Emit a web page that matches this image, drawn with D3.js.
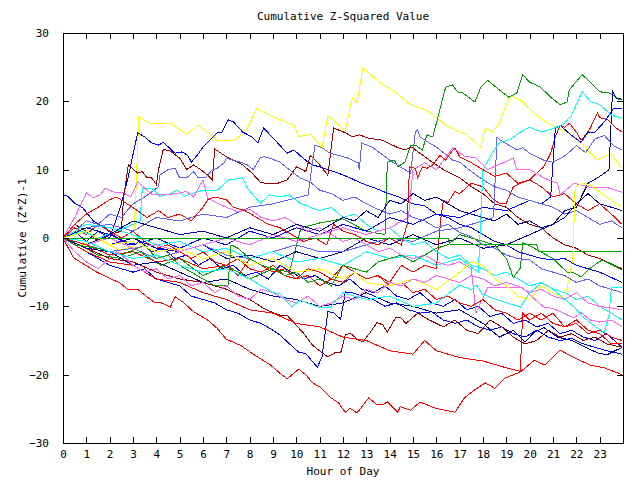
<!DOCTYPE html>
<html><head><meta charset="utf-8">
<script src="https://cdn.jsdelivr.net/npm/d3@7"></script>
<style>
html,body{margin:0;padding:0;background:#fff;}
text{font-family:"DejaVu Sans Mono","Liberation Mono",monospace;font-size:11px;fill:#000;}
</style></head>
<body><svg id="c" width="640" height="480"></svg>
<script>
// ---- data: [hour, cumulative (z*z)-1] ----
const title = "Cumulative Z-Squared Value";
const xTitle = "Hour of Day";
const yTitle = "Cumulative (Z*Z)-1";
const xTicks = d3.range(0, 24);
const yTicks = [-30, -20, -10, 0, 10, 20, 30];

const s01 = [[0,0],[0.7,-1],[1.6,-0.3],[2.4,-1.8],[3.0,-1.2],[3.1,4.5],[3.25,17.7],[3.7,16.8],[4.25,16.7],[4.6,16.8],[5.3,15.2],[5.8,16.5],[6.2,15.5],[6.6,14.3],[7.3,14.3],[7.8,15.4],[8.3,18.9],[9.0,17.7],[9.9,16.5],[10.1,14.8],[10.6,15.2],[11.1,13.2],[11.35,17.9],[12.1,15.7],[12.4,20.6],[12.6,19.8],[12.85,24.9],[13.6,22.7],[14.3,21.2],[14.9,19.5],[15.6,18.7],[16.45,16.4],[17.3,15.1],[17.9,13.3],[18.1,16.2],[18.4,15.5],[18.7,16.8],[19.15,20.8],[19.6,20.2],[20.15,18.4],[20.75,16.8],[21.6,15.5],[22.2,13.9],[22.9,11.4],[23.45,12.4],[23.96,10.2]];
const s02 = [[0,0],[0.7,-1],[1.5,-2.5],[2.5,-3],[3.3,-2],[4.2,-4],[5,-3],[6,-5.5],[7,-4],[8,-6],[9,-4.5],[9.7,-5],[10.2,1.5],[11,2.2],[12,2.8],[13,1],[13.8,0.5],[13.9,11.1],[14.2,11.4],[14.35,10.4],[14.65,11.1],[14.9,13.6],[15.1,13.6],[15.4,12.9],[15.6,15.1],[15.85,14.8],[16.4,22.1],[16.7,22.4],[16.9,21.4],[17.15,21.2],[17.65,19.9],[17.9,22],[18.2,23.1],[18.3,22.8],[18.8,21.4],[19.1,20.6],[19.45,21.2],[19.7,23.9],[20.0,22.8],[20.45,22.1],[20.9,20.6],[21.3,19.5],[21.6,19.9],[21.7,21.7],[22.25,23.9],[22.6,22.8],[23.0,21.4],[23.45,21.2],[23.8,20.3],[23.96,20.2]];
const s03 = [[0,0],[0.5,1],[1,-0.5],[1.5,1],[2,0],[2.45,4.4],[2.8,9],[3.2,15.4],[3.5,14.8],[3.8,13.9],[4.1,13.6],[4.3,14],[4.8,12.4],[5.1,12.6],[5.35,12.1],[5.5,11.1],[5.75,12.1],[6.0,13.3],[6.6,15.4],[6.8,15.4],[7.07,17.3],[7.3,17],[7.7,15.5],[8.1,14.8],[8.35,13.9],[8.6,16.1],[9.2,13.9],[9.6,12.4],[9.9,12.9],[10.15,12.1],[10.5,11.1],[10.7,10.7],[11.2,10.2],[11.8,9.5],[12.3,8.8],[12.8,8],[13.3,7.4],[13.8,6.7],[14.4,6],[15,5],[15.5,4.7],[16,3.5],[16.5,3],[17,2],[17.5,1.5],[18,0.5],[18.5,-0.5],[19,-1],[19.5,-2],[20,-2.5],[20.5,-3],[21,-3.2],[21.5,-3],[22,-4],[22.5,-4.5],[23,-5],[23.96,-6.5]];
const s04 = [[0,6.3],[0.2,6.1],[0.5,5.1],[0.85,4.4],[1.3,2.5],[1.8,1.5],[2.3,0],[2.8,-1],[3.3,-0.5],[3.8,-2],[4.3,-1.5],[4.8,-3],[5.3,-2.5],[5.8,-4],[6.3,-3],[6.8,-4.5],[7.3,-4],[7.8,-5.5],[8.3,-5],[8.8,-6],[9.3,-4],[9.8,-5],[10.3,-6],[10.8,-5.5],[11.3,-6.5],[11.8,-7],[12.3,-6],[12.8,-7.5],[13.3,-8],[13.8,-7],[14.3,-8.5],[14.8,-9],[15.3,-8],[15.8,-9.5],[16.3,-10],[16.8,-9],[17.3,-10.5],[17.8,-10],[18.3,-11.5],[18.8,-11],[19.3,-12.5],[19.8,-12],[20.3,-13],[20.8,-12.5],[21.3,-14],[21.8,-13.5],[22.3,-14.5],[22.8,-15],[23.3,-14],[23.96,-16]];
const s05 = [[0,0],[0.5,2],[1,1],[1.5,-0.5],[2,0.5],[2.5,1],[2.6,6],[2.8,10.7],[3.2,9.5],[3.4,9.7],[3.6,8.8],[3.8,8.8],[4.0,7.8],[4.1,10.1],[4.3,13],[4.6,12.7],[5.0,11.7],[5.3,10],[5.6,10.7],[5.9,10],[6.2,9.2],[6.4,8.5],[6.5,13],[6.65,12.7],[7.0,11.9],[7.3,11.4],[7.7,10.7],[8.1,9.5],[8.45,8.2],[8.75,7.9],[9.2,8],[9.6,8.5],[10.0,10.4],[10.15,10.2],[10.4,9.7],[10.6,12.1],[10.9,11.1],[11.35,9.2],[11.6,16.1],[12.1,15.4],[12.4,14.8],[12.7,15.1],[13.1,14.6],[13.7,14.3],[14.3,13.3],[14.65,12.9],[14.95,13.3],[15.3,12.4],[15.7,11.4],[16.3,10],[16.6,9.5],[17.0,8.8],[17.5,7.5],[18,6.5],[18.5,5],[19,4.5],[19.5,3],[20,2],[20.5,1.5],[21,0],[21.5,-1],[22,-1.5],[22.5,-2.5],[23,-3],[23.96,-4.5]];
const s06 = [[0,0],[0.5,1.5],[1,0.5],[1.5,2],[2,1],[2.5,0],[3,1],[3.5,-0.5],[4,-1.5],[4.5,-1],[5,-2],[5.5,-3],[6,-2],[6.5,-3.5],[7,-4],[7.5,-3],[8,-4.5],[8.5,-5],[9,-4],[9.5,-5.5],[10,-6],[10.5,-4.5],[11,-5],[11.5,-6],[12,-6.5],[12.5,-5],[13,-6],[13.5,-5.5],[14,-6.5],[14.5,-4],[15,-5],[15.5,-4],[16,-4.5],[16.2,3],[16.3,5.5],[16.5,5.2],[16.8,6.8],[17,6.5],[17.5,8],[18,7.5],[18.4,5.8],[18.7,5.1],[19.0,5.1],[19.3,7.5],[19.6,8],[20.0,8.5],[20.3,9.5],[20.6,10.4],[20.9,12.4],[21.1,14.8],[21.3,16.5],[21.5,16.2],[21.7,16.8],[22.0,15.5],[22.2,14.3],[22.4,15.1],[22.6,16.1],[22.9,18.3],[23.0,17.6],[23.35,17.3],[23.7,16.1],[23.96,15.5]];
const s07 = [[0,0],[0.45,-2.9],[1.45,-5],[2.0,-5.9],[2.45,-6.6],[2.8,-7.6],[3.2,-7.5],[3.6,-8.6],[3.95,-9.5],[4.15,-9.4],[4.6,-10.1],[4.8,-8.6],[5.15,-9.4],[5.6,-10.8],[6.2,-12],[6.6,-13.2],[7.0,-14.8],[7.6,-15.7],[8.2,-17.1],[8.9,-18.6],[9.3,-19.8],[9.6,-20.6],[10.1,-19.2],[10.4,-20],[10.7,-21.2],[11.0,-21.8],[11.45,-23.3],[11.8,-24.1],[12.1,-25.5],[12.3,-24.9],[12.6,-25.6],[13.1,-23.4],[13.45,-24.4],[13.7,-24.4],[13.9,-24],[14.35,-25.5],[14.45,-24.7],[14.9,-25.2],[15.3,-24],[15.95,-24.9],[16.8,-25.5],[17.2,-23.4],[17.65,-22.2],[18.1,-21.2],[18.5,-22],[18.95,-20.5],[19.6,-19.6],[20.2,-17.9],[20.65,-18.6],[21.3,-16.4],[21.95,-17.6],[22.6,-18.6],[23.2,-19],[23.96,-20]];
const s08 = [[0,0],[1,-2],[2,-4],[3,-5],[3.5,-4.5],[4,-6],[5,-7],[5.5,-8.5],[6,-9],[6.5,-9.5],[7,-10.5],[7.5,-11],[8,-12],[8.5,-12.5],[9,-13.5],[9.3,-14.2],[9.9,-16.1],[10.1,-16.7],[10.4,-16.9],[10.9,-18.9],[11.1,-17.4],[11.35,-10.8],[11.6,-10.9],[11.9,-11.9],[12.1,-7.9],[12.4,-8],[12.8,-8.5],[13.3,-9],[13.8,-10],[14.3,-9.5],[14.8,-10.5],[15.3,-11],[15.8,-10.8],[16.3,-12],[16.8,-12.5],[17.3,-12],[17.8,-13],[18.3,-13.5],[18.8,-13],[19.3,-14],[19.8,-14.5],[20.3,-13.5],[20.8,-14.5],[21.3,-15],[21.8,-14.7],[22.3,-15.5],[22.8,-16],[23.3,-16.5],[23.96,-17]];
const s09 = [[0,0],[1,-1.5],[2,-3],[3,-3.5],[4,-5],[5,-6],[6,-6.5],[7,-7.5],[8,-9],[8.7,-10.5],[9.3,-11.3],[9.6,-11.3],[9.9,-12.4],[10.3,-13.9],[10.7,-15.7],[11.1,-16.8],[11.35,-17.4],[11.65,-16.8],[11.9,-16.8],[12.1,-14.2],[12.3,-13.9],[12.65,-14.9],[12.85,-15.2],[13.15,-13.9],[13.45,-12.4],[13.7,-12.7],[13.9,-13.8],[14.25,-11.7],[14.45,-11.6],[14.7,-12.5],[15.2,-11],[15.7,-12],[16.3,-13],[16.8,-12],[17.3,-13.5],[17.8,-14],[18.3,-12],[18.8,-13],[19.3,-14.5],[19.8,-15.5],[20.3,-15],[20.8,-13.5],[21.3,-14.5],[21.8,-14],[22.3,-15],[22.8,-14.5],[23.3,-15.5],[23.96,-16]];
const s10 = [[0,0],[1,1],[2,-1],[3,0],[4,-1.5],[5,-2],[6,-1],[7,-3],[8,-2.5],[9,-3.5],[10,-2],[11,-3],[12,-2],[13,0],[14,-1],[15,0.5],[16,-1],[17,0],[18,-1.5],[19,-1],[20,0.5],[21,2],[21.5,4],[22,4.5],[22.5,8],[23,9],[23.4,10],[23.55,21.5],[23.7,20.5],[23.96,20.3]];
const s11 = [[0,0],[1,-1],[2,0.5],[3,-1],[4,0],[5,-1.5],[6,0],[7,-1],[8,1],[9,0],[10,1.5],[11,0.5],[12,2],[13,1],[14,3],[15,2],[16,3.5],[17,3],[18,4.5],[19,4],[20,5.5],[20.5,5],[20.9,6],[21.1,16],[21.3,16.5],[21.8,15],[22.2,14],[22.5,15.5],[22.8,15.5],[23.2,17],[23.6,19],[23.96,19]];
const s12 = [[0,0],[0.5,1],[1,2.5],[1.5,2],[2,3.5],[2.5,3],[3,5],[3.5,6],[4.1,7.5],[4.15,9.2],[4.5,10],[4.8,10.2],[5.0,8.8],[5.3,8.8],[5.6,9.7],[5.8,8.8],[6.1,8.8],[6.4,10],[6.6,10.2],[6.9,11],[7.0,11.7],[7.25,11.4],[7.7,11],[7.9,10.7],[8.15,10],[8.45,11.7],[8.6,11.9],[8.85,11.7],[9.3,11.1],[9.7,10],[10.0,9.2],[10.15,8.8],[10.6,8.2],[11,7],[11.5,6.5],[12,5.5],[12.5,6],[13,5],[13.5,4.2],[14,3.5],[14.5,4],[15,3],[15.5,2.5],[16,1.5],[16.5,2],[17,0.8],[17.5,0.2],[18,-1],[18.5,-1.5],[19,-2.5],[19.5,-3],[20,-3.2],[20.5,-4.5],[21,-5],[21.5,-5.5],[22,-6.5],[22.5,-6],[23,-7],[23.96,-8]];
const s13 = [[0,0],[1,1.5],[2,2],[3,1],[4,3],[5,2.5],[6,3.5],[7,3],[8,4.5],[9,5],[10.5,6.3],[10.8,13.6],[11.1,13.2],[11.45,12.4],[11.8,12.1],[12.2,11.7],[12.65,11],[12.7,10],[12.8,13.9],[13.25,13.3],[13.6,12.4],[14.0,11.4],[14.45,10.4],[14.9,9.5],[15.1,15.5],[15.2,15.8],[15.3,14.8],[15.7,13.9],[16.0,13.3],[16.45,12.1],[16.7,11.4],[17.0,11.1],[17.4,10],[18,8.5],[18.5,7.5],[19,7],[19.5,6],[20,5.5],[20.5,5],[21,4.5],[21.5,3.5],[22,4],[22.5,3],[23,2],[23.5,2.5],[23.96,1.5]];
const s14 = [[0,0],[1,-1],[2,-2],[3,-1.5],[4,-3],[5,-2],[6,-1],[7,-2.5],[8,-3],[9,-2],[10,-1],[11,-2],[12,-2],[13,-1],[14,0],[15,-0.5],[16,1],[17,1.5],[18,2.5],[18.45,3],[18.6,14.8],[18.7,14.4],[19.1,13.6],[19.45,12.9],[19.7,13.2],[20.0,12.4],[20.3,11.9],[20.6,11.4],[21.0,11.1],[21.5,12],[22,13.5],[22.4,12.5],[22.8,14.5],[23.2,15],[23.6,13.5],[23.96,12.9]];
const s15 = [[0,0],[1,2],[2,1.5],[3,0.5],[4,-1],[5,-0.5],[6,-2],[7,-1.5],[8,-3],[9,-2],[10,-3.5],[11,-3],[12,-4],[13,-2],[14,-3],[15,-2.5],[16,-4],[17,-3],[17.8,-5],[18,10],[18.4,12.5],[18.7,13.9],[19.2,14.5],[19.6,15.5],[20,16.2],[20.5,15.5],[21,16],[21.5,16.8],[21.8,18],[22.25,21.4],[22.6,20],[23,19.5],[23.5,18],[23.96,17.5]];
const s16 = [[0,0],[0.8,1],[1.5,0],[2.3,1],[3,2],[3.3,2.5],[3.4,7.3],[3.8,7.3],[4.15,6.1],[4.6,6.5],[4.9,7],[5.2,6.1],[6,7],[6.6,7],[7.1,8.5],[7.7,8.8],[7.9,7.3],[8.45,5.1],[8.85,6.3],[9.3,6],[9.7,6.3],[10.15,5.1],[10.6,4.5],[11,4],[11.5,4.5],[12,3],[12.5,3.5],[13,2],[13.5,1],[14,1.5],[14.5,0],[15,-1],[15.5,-0.5],[16,-2],[16.5,-3],[17,-2.5],[17.5,-4],[18,-4.5],[18.5,-5.5],[19,-5],[19.5,-6],[20,-7],[20.5,-6.5],[21,-7.5],[21.5,-8],[22,-9],[22.5,-8.5],[23,-10],[23.5,-11],[23.96,-12]];
const s17 = [[0,0],[0.5,3],[1.0,6.6],[1.3,5.9],[1.6,6.3],[1.8,7.3],[2.2,6.7],[2.6,6.6],[2.9,6],[3.2,8.2],[3.6,7],[3.85,6.3],[4.5,6.3],[5.0,6.6],[5.3,6.8],[5.6,6],[6.0,8.5],[6.2,5.8],[6.6,5.1],[7,4.5],[7.5,3.8],[8,4.2],[8.5,3],[9,2.5],[9.5,3],[10,2],[10.5,1],[11,1.5],[11.5,0.5],[12,-0.5],[12.5,0],[13,-1],[13.5,-2],[14,-1.5],[14.5,-2.5],[15,-3],[15.5,-2.5],[16,-3.5],[16.5,-4],[17,-3.5],[17.5,-4.5],[17.7,-11],[17.9,-9.5],[18.2,-7.3],[19.0,-7.3],[19.3,-7.2],[19.7,-7.3],[20.1,-8.6],[20.6,-10.1],[21.0,-10.3],[21.9,-11.7],[22.2,-10.9],[22.6,-12],[23.0,-12.3],[23.5,-12],[23.96,-13]];
const s18 = [[0,0],[1,-1],[2,0],[3,-1.5],[4,-1],[5,-2],[6,-1],[7,0],[8,-1],[9,0.5],[10,-0.5],[11,0.5],[12,1.5],[13,0.5],[14,1.5],[14.8,3],[15.0,10],[15.5,11],[16,10],[16.7,13.2],[17.2,12],[17.7,11.7],[18.2,10],[18.85,11],[19.3,11.7],[19.45,10],[20,10],[20.6,8.8],[21.2,8],[21.3,6.3],[21.9,8],[22.6,7.4],[23.3,7.4],[23.96,6.7]];
const s19 = [[0,0],[0.5,2],[1,3.5],[1.5,4.5],[2,5.6],[2.3,6],[2.7,5.1],[3.2,4],[3.6,3],[4.1,4],[4.5,3],[5,3.5],[5.5,2.5],[6,4.5],[6.2,5.6],[6.5,6],[7,5.6],[7.3,4.5],[7.8,4],[8.3,3],[8.8,2],[9.3,1.5],[9.8,0.5],[10.3,-0.5],[10.8,0],[11.3,-1],[11.6,2],[12,1],[12.5,0.5],[13,-0.5],[13.5,-1],[14,0],[14.5,-1],[14.75,2],[14.85,10.4],[15.1,10.2],[15.2,8.8],[15.4,10.4],[15.6,10.2],[15.85,10.7],[16.15,12.1],[16.4,11.4],[16.6,12.4],[16.8,13.2],[17,11.9],[17.5,11],[18,10],[18.5,9],[19,9.5],[19.5,8],[20,8.5],[20.5,7.5],[21,6],[21.5,6.5],[22,5],[22.5,4],[23,5],[23.5,3.5],[23.96,2]];
const s20 = [[0,0],[1,-1],[2,-2.5],[3,-2],[4,-3.5],[5,-3],[6,-4.5],[7,-4],[7.5,-5.5],[8,-3],[8.5,-4],[9,-5],[9.5,-4.5],[10,-6],[10.5,-5.5],[11,-7],[11.5,-6],[12,-4],[12.5,-5],[13,-6],[13.5,-5.5],[14,-7],[14.5,-6.5],[15,-8],[15.5,-7.5],[16,-9],[16.5,-8.5],[17,-9.5],[17.5,-10],[18,-9],[18.5,-10.5],[19,-11],[19.5,-12],[20,-11],[20.5,-12],[21,-11],[21.5,-13],[22,-12.5],[22.5,-14],[23,-13.5],[23.5,-14.5],[23.96,-15]];
const s21 = [[0,0],[1,-2],[2,-3.5],[3,-4],[4,-6],[5,-6.5],[6,-8],[7,-9],[8,-10.5],[9,-11],[10,-12.5],[11,-13],[12,-14.5],[13,-15],[14,-16.5],[15,-17],[15.5,-15],[16,-16.5],[17,-17.5],[18,-18],[19,-19],[19.6,-19.5],[19.7,-11],[20,-12],[20.5,-11],[21,-12.5],[21.5,-13],[22,-12],[22.5,-13.5],[23,-14],[23.5,-15.5],[23.96,-15.5]];
const s22 = [[0,0],[1,-1.5],[2,-2],[3,-4],[4,-3.5],[5,-5],[6,-6.5],[7,-6],[8,-7.5],[9,-8.5],[10,-9],[11,-10],[12,-9.5],[13,-8],[14,-9.5],[15,-10],[16,-11],[17,-10.5],[17.5,-11.5],[18,-12.5],[18.7,-14.5],[19.3,-13.5],[19.8,-15.2],[20.2,-13.8],[20.6,-13.1],[21.2,-14.5],[21.8,-15],[22.4,-16],[22.9,-16.8],[23.3,-17.1],[23.96,-16]];
const s23 = [[0,0],[0.5,-1],[1.5,-1.5],[2.5,-2.5],[3.5,-1],[4,-3],[4.5,-2.5],[5,-4],[5.5,-5],[6,-6],[6.5,-7],[7.07,-7],[7.2,-1],[7.5,-1.5],[8,-3],[8.5,-4],[9,-4.5],[9.5,-5.5],[10,-5],[10.5,-6.5],[11,-6],[11.5,-7],[12,-4],[12.5,-4.5],[13,-5],[13.5,-3.5],[14,-3],[14.5,-2.5],[15,-3.5],[15.5,-2.5],[16,-1.5],[16.5,-1],[17,0.5],[17.5,0],[18,-0.5],[18.5,-1],[19,-3],[19.3,-5.8],[19.6,-4.4],[19.7,-0.7],[20.1,-1.3],[20.45,-2],[21,-3],[21.6,-5],[21.9,-5.1],[22.2,-5.7],[22.6,-4.4],[23.1,-3.2],[23.7,-4.2],[23.96,-4.7]];
const s24 = [[0,0],[16.5,0],[16.6,-1],[20.3,-1],[20.4,-2],[23.96,-2]];
const s25 = [[0,0],[1,1.5],[2,0.5],[3,2.5],[4,1.5],[5,0.5],[6,1],[7,0],[8,1.5],[9,0.5],[10,2],[11,1],[12,3],[12.5,2.5],[13,4],[13.5,3],[14,5.5],[14.5,5],[15,6.5],[15.5,5.5],[16,6],[16.5,5],[17,4],[17.5,3.5],[18,3],[18.5,2.5],[19,3.5],[19.5,2],[20,2.5],[20.5,1.5],[21,2],[21.5,3],[22,5],[22.5,6.5],[23,5],[23.5,4.5],[23.96,4]];
const s26 = [[0,0],[1,1],[2,-1],[3,-0.5],[4,-2],[5,-1.5],[6,-3],[7,-2],[8,-4],[9,-3],[10,-5],[11,-4.5],[12,-6],[12.5,-5],[13,-6.5],[14,-7],[15,-6],[16,-7.5],[17,-5],[17.5,-3.5],[18,-4],[18.5,-6],[19,-7],[19.5,-8.5],[20,-9],[20.5,-7],[21,-8],[21.5,-9],[21.85,-3],[21.95,7.5],[22.3,8],[22.7,7.5],[23.1,6.5],[23.5,5.5],[23.96,4.5]];
const s27 = [[0,0],[0.5,-2],[1,-3.5],[1.5,-4.5],[2,-3],[2.3,-2],[2.7,-3],[3,-4],[3.5,-5],[4,-4.5],[4.5,-6],[5,-5.5],[5.5,-7],[6,-6.5],[6.5,-8],[7,-7],[7.5,-8.5],[8,-9],[8.5,-7.5],[9,-8],[9.5,-9],[10,-9.5],[10.5,-8.5],[11,-10],[11.5,-9.5],[12,-8.5],[12.5,-9],[13,-7.5],[13.5,-8],[14,-6.5],[14.5,-7],[15,-6],[15.5,-6.5],[16,-5.5],[16.5,-6],[17,-6.5],[17.5,-5.5],[18,-6],[18.5,-7],[19,-6.5],[19.5,-7],[20,-8],[20.5,-7.5],[21,-8.5],[21.5,-9],[22,-8],[22.5,-9.5],[23,-10],[23.96,-10.5]];
const s28 = [[0,0],[1,-0.5],[2,-2],[3,-3],[4,-2.5],[5,-4],[6,-5],[7,-4.5],[8,-6],[9,-8],[9.3,-8.2],[9.8,-10.1],[10.15,-9.1],[10.7,-9.8],[11,-10.2],[11.45,-10.2],[11.7,-9.1],[12,-8],[13,-9],[14,-8.5],[15,-10],[16,-9.5],[17,-6.9],[17.5,-7.6],[17.7,-6.9],[18,-8.3],[19,-9.5],[19.6,-10.1],[20,-8],[20.5,-6.6],[21,-7.5],[21.9,-10.1],[22.3,-11.6],[22.8,-12.9],[23.2,-13.8],[23.4,-11.3],[23.5,-7.3],[23.96,-7.2]];

const seriesList = [s01,s02,s03,s04,s05,s06,s07,s08,s09,s10,s11,s12,s13,s14,s15,s16,s17,s18,s19,s20,s21,s22,s23,s24,s25,s26,s27,s28];
const seriesColors = ["#ffff00","#00a000","#0000ff","#0000ff","#a00000","#ff0000","#ff0000","#0000ff","#a00000","#0000a0","#0000ff","#6060ff","#6060ff","#6060ff","#00ffff","#00ffff","#ff60ff","#ff60ff","#ff0000","#ff0000","#ff0000","#0000a0","#00a000","#00a000","#0000a0","#ffff00","#ff60ff","#00ffff"];

// ---- drawing ----
const svg = d3.select("#c");
const L = 63, R = 623, T = 33, B = 443;
const x = d3.scaleLinear().domain([0, 24]).range([L, R]);
const y = d3.scaleLinear().domain([-30, 30]).range([B, T]);

const line = d3.line().x(d => x(d[0])).y(d => y(d[1]));
const g = svg.append("g");
seriesList.forEach((s, i) => {
  g.append("path").attr("d", line(s)).attr("fill", "none")
   .attr("stroke", seriesColors[i]).attr("stroke-width", 1)
   .attr("shape-rendering", "crispEdges");
});

// axes (ticks inward on all four sides)
svg.append("g").attr("transform", `translate(0,${B})`)
  .call(d3.axisBottom(x).tickValues(xTicks).tickSize(-6).tickPadding(7).tickFormat(d3.format("d")))
  .call(a => a.select(".domain").remove());
svg.append("g").attr("transform", `translate(0,${T})`)
  .call(d3.axisTop(x).tickValues(xTicks).tickSize(-6).tickFormat(""))
  .call(a => a.select(".domain").remove());
svg.append("g").attr("transform", `translate(${L},0)`)
  .call(d3.axisLeft(y).tickValues(yTicks).tickSize(-6).tickPadding(14).tickFormat(d3.format("d")))
  .call(a => a.select(".domain").remove());
svg.append("g").attr("transform", `translate(${R},0)`)
  .call(d3.axisRight(y).tickValues(yTicks).tickSize(-6).tickFormat(""))
  .call(a => a.select(".domain").remove());
svg.selectAll(".tick line").attr("stroke", "#000").attr("shape-rendering", "crispEdges");
svg.selectAll(".tick text").style("font-family", '"DejaVu Sans Mono", monospace').style("font-size", "11px");

svg.append("rect").attr("x", L + 0.5).attr("y", T + 0.5).attr("width", R - L).attr("height", B - T)
  .attr("fill", "none").attr("stroke", "#000").attr("shape-rendering", "crispEdges");

svg.append("text").attr("x", (L + R) / 2).attr("y", 20).attr("text-anchor", "middle").text(title);
svg.append("text").attr("x", (L + R) / 2).attr("y", 475).attr("text-anchor", "middle").text(xTitle);
svg.append("text").attr("transform", `translate(26,${(T + B) / 2}) rotate(-90)`).attr("text-anchor", "middle").text(yTitle);
</script></body></html>
